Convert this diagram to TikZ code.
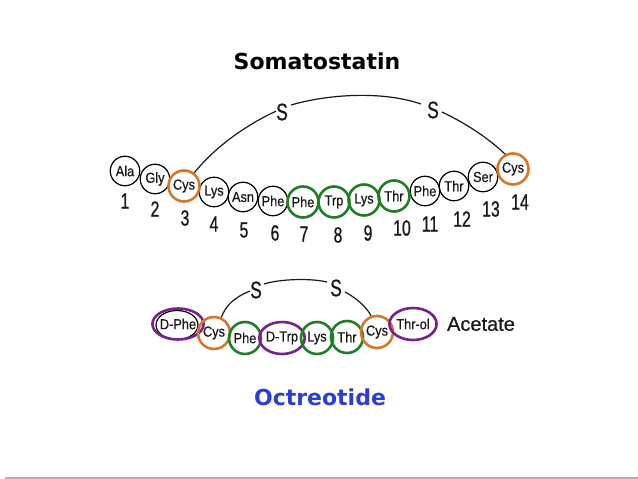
\documentclass[tikz,border=0pt]{standalone}
\usepackage{fontspec}
\setmainfont{Liberation Sans}
\newfontfamily\residuefont[FakeStretch=0.88,FakeBold=0.6]{Liberation Sans}
\newfontfamily\numfont[FakeStretch=0.72,FakeBold=0.8]{Liberation Sans}
\newfontfamily\acfont[FakeBold=0.6]{Liberation Sans}
\newfontfamily\titlefont{DejaVu Sans Bold}
\definecolor{cysorange}{HTML}{D8772A}
\definecolor{resgreen}{HTML}{1F7F24}
\definecolor{respurple}{HTML}{7A1F8C}
\definecolor{titleblue}{HTML}{2B3FD6}
\usetikzlibrary{shapes.geometric}
\tikzset{
  x=1pt,y=-1pt,
  res/.style={circle,draw=black,line width=1.2pt,minimum size=29.5pt,inner sep=0pt,font=\residuefont\fontsize{14.5}{15}\selectfont,text=black!90},
  cysres/.style={res,draw=cysorange,line width=2.6pt,minimum size=31pt},
  greenres/.style={res,draw=resgreen,line width=2.6pt,minimum size=31pt},
  purpleres/.style={ellipse,draw=respurple,line width=2.6pt,inner sep=0pt,font=\residuefont\fontsize{14.5}{15}\selectfont,text=black!90},
  numlabel/.style={font=\numfont\fontsize{22}{22}\selectfont,text=black!90,inner sep=0pt},
  sulfur/.style={font=\numfont\fontsize{24}{24}\selectfont,text=black!90,inner sep=0pt},
  bond/.style={line width=1.2pt,black!90},
  ttl/.style={font=\titlefont\fontsize{22}{24}\selectfont,inner sep=0pt},
}
\begin{document}
\begin{tikzpicture}
\useasboundingbox (0,0) rectangle (638,479);
\fill[white] (0,0) rectangle (638,479);
\coordinate (ruleL) at (5,478);
\coordinate (ruleR) at (638,478);
\draw[line width=1.4pt,black!30] (ruleL) -- (ruleR);

\node[ttl,text=black] (title) at (317,61) {Somatostatin};
\node[ttl,text=titleblue] (octitle) at (320,397) {Octreotide};

% Somatostatin chain
\node[res] (a1) at (125,171) {Ala};
\node[res] (a2) at (155,179) {Gly};
\node[res] (a4) at (214,192) {Lys};
\node[res] (a5) at (243,197) {Asn};
\node[res] (a6) at (273,201) {Phe};
\node[res] (a11) at (425,191) {Phe};
\node[res] (a12) at (454,186) {Thr};
\node[res] (a13) at (483,177) {Ser};
\node[cysres] (a3) at (184,186) {Cys};
\node[greenres] (a7) at (303,202) {Phe};
\node[greenres] (a8) at (334,202) {Trp};
\node[greenres] (a9) at (364,200) {Lys};
\node[greenres] (a10) at (394,196) {Thr};
\node[cysres] (a14) at (513,169) {Cys};

\foreach \n/\x/\y in {1/125/201,2/155/209,3/185/218,4/214/224,5/244/230,6/275/233,7/304/234,8/338/235,9/368/233,10/402/228,11/430/224,12/462/219,13/491/209,14/520/202}
  \node[numlabel] (n\n) at (\x,\y) {\n};

\node[sulfur] (s1) at (282,112) {S};
\node[sulfur] (s2) at (433,110) {S};
\coordinate (s1r) at (291,105);
\coordinate (s2l) at (421,104);
\coordinate (s2r) at (442,112);
\draw[bond] (a3.52) .. controls (215,147) and (246,125) .. (s1.172);
\draw[bond] (s1r) .. controls (325,95) and (380,90) .. (s2l);
\draw[bond] (s2r) .. controls (465,123) and (487,137) .. (a14.118);

% Octreotide chain
\draw[line width=1.2pt,black] (177,325) ellipse [x radius=21,y radius=14.5];
\node[purpleres,minimum width=44pt,minimum height=31pt] (b1) at (178,324) {D-Phe};
\node[cysres,minimum size=32pt] (b2) at (214,333) {Cys};
\node[greenres,minimum size=32pt] (b3) at (245,338) {Phe};
\node[purpleres,minimum width=41pt,minimum height=32pt] (b4) at (282,338) {D-Trp};
\node[greenres,minimum size=32pt] (b5) at (317,338) {Lys};
\node[greenres,minimum size=32pt] (b6) at (347,337) {Thr};
\node[cysres,minimum size=32pt] (b7) at (377,332) {Cys};
\node[purpleres,minimum width=45pt,minimum height=32pt] (b8) at (413,324) {Thr-ol};
\node[font=\acfont\fontsize{20}{21}\selectfont,text=black!90,inner sep=0pt] (ac) at (481,324) {Acetate};

\node[sulfur] (s3) at (256,290) {S};
\node[sulfur] (s4) at (336,288) {S};
\coordinate (s3r) at (264,284);
\coordinate (s4l) at (327,282);
\coordinate (s4r) at (345,292);
\draw[bond] (b2.65) .. controls (226,305) and (235,297) .. (s3.190);
\draw[bond] (s3r) .. controls (280,279) and (310,278) .. (s4l);
\draw[bond] (s4r) .. controls (358,299) and (367,308) .. (b7.110);
\end{tikzpicture}
\end{document}
